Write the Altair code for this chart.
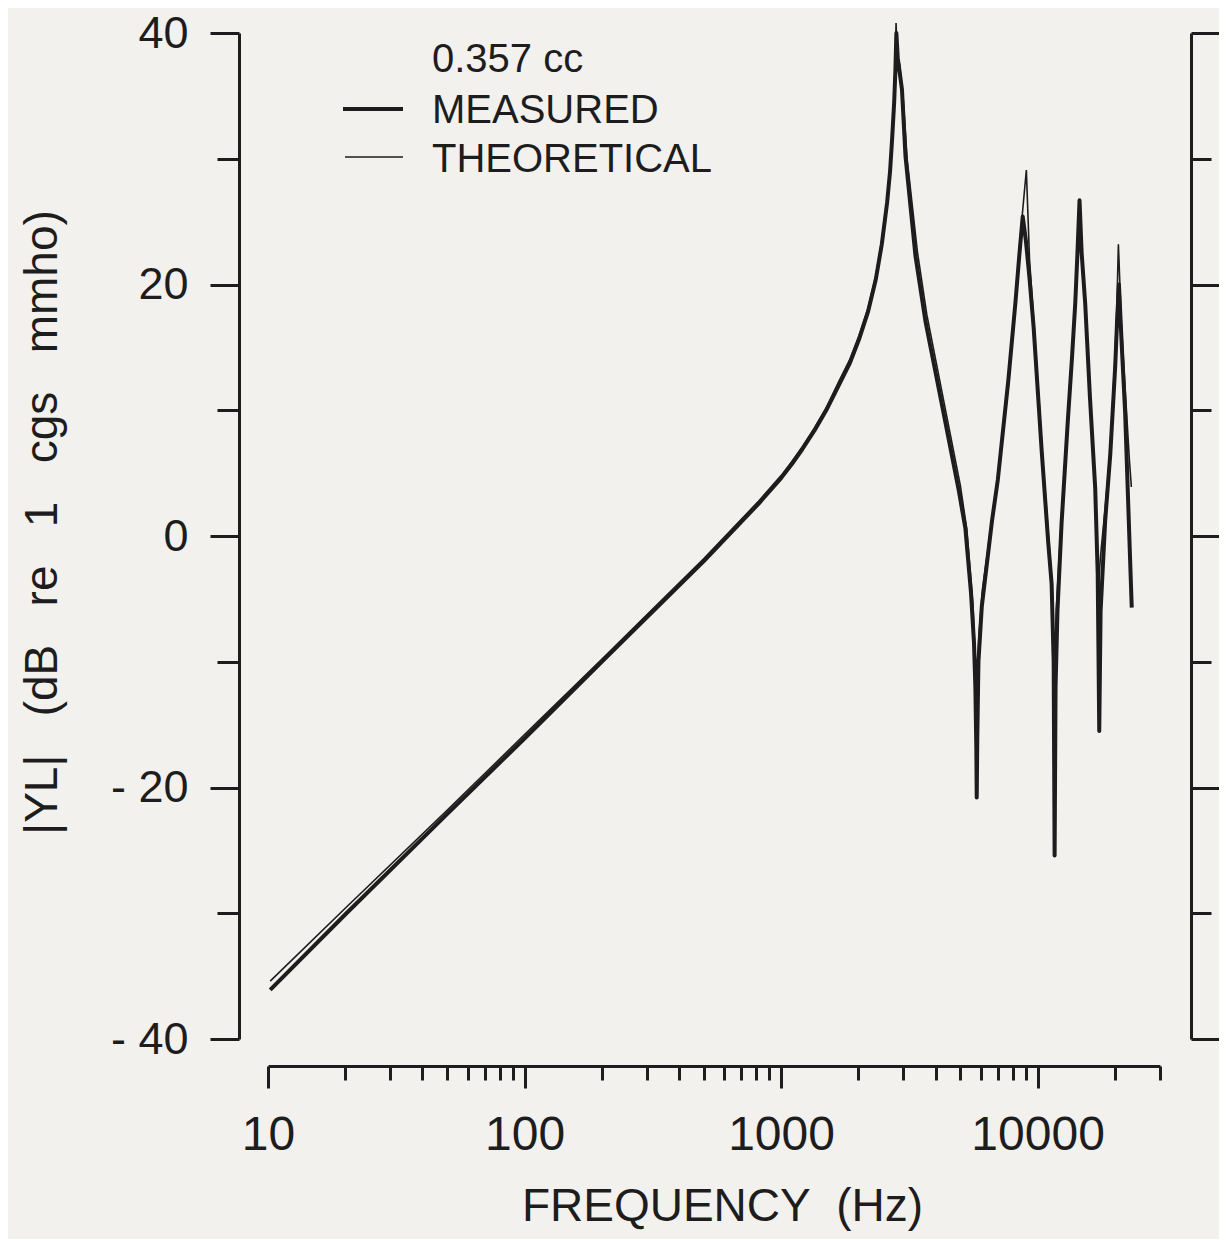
import altair as alt
import pandas as pd

INK = "#1d1d1d"
PAPER = "#f3f1ed"
FONT = "Liberation Sans"

# ---- data ----
meas_freq = [10.2, 20, 50, 100, 200, 500, 820, 1000, 1100, 1210, 1350, 1500, 1680, 1850, 2010, 2180,
             2340, 2470, 2590, 2660, 2710, 2760, 2790, 2815, 2850, 2960, 3055, 3340, 3660,
             4240, 4930, 5230, 5500, 5650, 5720, 5770, 5790, 5820, 5880, 6060, 6640, 7000,
             7700, 8190, 8500, 8750, 9000, 9300, 9650, 10370, 11000, 11340, 11550, 11650,
             11750, 11950, 12400, 13100, 13600, 14020, 14300, 14570, 14850, 15330, 16000,
             16770, 17150, 17390, 17600, 18340, 19200, 20070, 20400, 20750, 21300, 21940,
             22950, 23280]
meas_db = [-36.1, -30.1, -22.1, -16.1, -10.0, -2.0, 2.6, 4.6, 5.7, 6.9, 8.4, 10.0, 12.0, 13.7, 15.6, 17.8,
           20.4, 23.2, 26.5, 29.0, 31.6, 34.5, 37.0, 40.0, 38.0, 35.5, 30.2, 22.3, 17.0,
           10.4, 3.6, 0.6, -4.5, -8.5, -12.0, -17.0, -20.8, -16.0, -10.0, -5.6, 1.2, 4.5,
           12.5, 18.5, 22.5, 25.4, 23.5, 20.5, 16.6, 6.8, -0.5, -3.8, -10.0, -25.4,
           -12.0, -6.0, 1.0, 9.0, 14.0, 18.5, 22.5, 26.7, 22.5, 18.5, 11.0,
           3.8, -3.0, -15.5, -6.0, 1.2, 6.5, 13.5, 17.0, 20.0, 15.0, 9.8,
           -2.0, -5.7]

theo_freq = [10.2, 20, 50, 100, 200, 500, 820, 1000, 1100, 1210, 1350, 1500, 1680, 1850, 2010, 2180,
             2340, 2470, 2590, 2660, 2710, 2760, 2790, 2807, 2830, 2900, 3000, 3100, 3400,
             3700, 4300, 5000, 5300, 5600, 5720, 5780, 5830, 5900, 6100, 6700, 7050, 7700,
             8190, 8500, 8800, 9040, 9300, 9800, 10500, 11100, 11400, 11550, 11620, 11700,
             11850, 12300, 13100, 13600, 14020, 14300, 14600, 14900, 15400, 16000, 16700,
             17050, 17250, 17450, 17700, 18300, 19200, 20000, 20350, 20650, 21200, 21900,
             22800, 23200]
theo_db = [-35.4, -29.6, -21.8, -15.8, -9.8, -1.8, 2.8, 4.8, 5.9, 7.1, 8.6, 10.2, 12.3, 14.0, 15.9, 18.1,
           20.7, 23.5, 26.8, 29.3, 32.0, 35.2, 38.2, 40.8, 38.5, 37.5, 34.5, 30.0, 22.6,
           17.6, 10.8, 4.0, 0.5, -5.5, -10.0, -17.0, -11.5, -8.0, -4.2, 2.0, 5.2, 12.0,
           18.8, 23.0, 26.5, 29.1, 22.0, 15.2, 5.8, -0.8, -4.0, -8.5, -13.5, -9.0,
           -5.5, 0.5, 9.5, 14.5, 18.8, 22.0, 25.8, 21.5, 17.5, 11.5, 4.5,
           -0.5, -5.0, -2.5, -1.0, 2.0, 7.0, 14.0, 18.0, 23.2, 17.0, 12.0,
           6.0, 3.9]

legend_title = "0.357 cc"
legend_labels = ["MEASURED", "THEORETICAL"]

x_tick_values = [10, 20, 30, 40, 50, 60, 70, 80, 90,
                 100, 200, 300, 400, 500, 600, 700, 800, 900,
                 1000, 2000, 3000, 4000, 5000, 6000, 7000, 8000, 9000,
                 10000, 20000, 30000]
x_label_values = [10, 100, 1000, 10000]
y_tick_values = [-40, -30, -20, -10, 0, 10, 20, 30, 40]

SP = "\u00a0\u00a0\u00a0"
x_title = "FREQUENCY\u00a0\u00a0(Hz)"
y_title = "|YL|" + SP + "(dB" + SP + "re" + SP + "1" + SP + "cgs" + SP + "mmho)"

meas = pd.DataFrame({"freq": meas_freq, "db": meas_db})
theo = pd.DataFrame({"freq": theo_freq, "db": theo_db})

major_x = "indexof(" + str(x_label_values) + ", datum.value) >= 0"
major_y = "datum.value % 20 === 0"

x_scale = alt.Scale(type="log", domain=[10, 30000], nice=False)
y_scale = alt.Scale(domain=[-40, 40], nice=False, zero=False)

common = dict(domainColor=INK, domainWidth=3, tickColor=INK, tickWidth=3,
              labelColor=INK, labelFont=FONT, titleColor=INK, titleFont=FONT,
              titleFontWeight="normal", grid=False, labelOverlap=False, labelFlush=False)

x_axis = alt.Axis(orient="bottom", offset=27, values=x_tick_values,
                  labelExpr=major_x + " ? format(datum.value, 'd') : ''",
                  tickSize={"condition": {"test": major_x, "value": 22}, "value": 14},
                  labelPadding=23, labelFontSize=48, labelBaseline="top",
                  title=x_title, titleFontSize=46, titleX=454, titleY=154,
                  titleAlign="center", titleBaseline="alphabetic", **common)

y_axis_left = alt.Axis(orient="left", offset=29, values=y_tick_values,
                       labelExpr=major_y + " ? (datum.value < 0 ? '- ' + format(-datum.value, 'd') : format(datum.value, 'd')) : ''",
                       tickSize={"condition": {"test": major_y, "value": 29}, "value": 22},
                       labelPadding=22, labelFontSize=45, labelBaseline="middle",
                       title=y_title, titleFontSize=46, titleAngle=270,
                       titleX=-183, titleY=489, titleAlign="center",
                       titleBaseline="alphabetic", **common)

y_axis_right = alt.Axis(orient="right", offset=31, values=y_tick_values, labels=False,
                        tickSize={"condition": {"test": major_y, "value": 29}, "value": 20},
                        title=None, **common)

meas_line = alt.Chart(meas).mark_line(color=INK, strokeWidth=4, strokeJoin="round").encode(
    x=alt.X("freq:Q", scale=x_scale, axis=x_axis),
    y=alt.Y("db:Q", scale=y_scale, axis=y_axis_left),
    order="freq:Q",
)

theo_line = alt.Chart(theo).mark_line(color=INK, strokeWidth=1.6).encode(
    x=alt.X("freq:Q", scale=x_scale, axis=x_axis),
    y=alt.Y("db:Q", scale=y_scale, axis=y_axis_right),
    order="freq:Q",
)

text_style = dict(align="left", baseline="alphabetic", font=FONT, fontSize=40, color=INK)

leg_title = alt.Chart(pd.DataFrame({"t": [legend_title]})).mark_text(**text_style).encode(
    x=alt.value(164), y=alt.value(39), text="t:N")
leg_meas_txt = alt.Chart(pd.DataFrame({"t": [legend_labels[0]]})).mark_text(**text_style).encode(
    x=alt.value(164), y=alt.value(90), text="t:N")
leg_theo_txt = alt.Chart(pd.DataFrame({"t": [legend_labels[1]]})).mark_text(**text_style).encode(
    x=alt.value(164), y=alt.value(139), text="t:N")
leg_meas_line = alt.Chart(pd.DataFrame({"t": [legend_labels[0]]})).mark_rule(color=INK, strokeWidth=4).encode(
    x=alt.value(75), x2=alt.value(135), y=alt.value(76))
leg_theo_line = alt.Chart(pd.DataFrame({"t": [legend_labels[1]]})).mark_rule(color=INK, strokeWidth=1.6).encode(
    x=alt.value(77), x2=alt.value(135), y=alt.value(124))

chart = alt.layer(
    meas_line, theo_line, leg_title, leg_meas_txt, leg_theo_txt, leg_meas_line, leg_theo_line
).resolve_axis(y="independent").properties(
    width=892, height=1006,
    padding={"left": 260, "top": 25, "right": 59, "bottom": 200},
    autosize=alt.AutoSizeParams(type="none"),
).configure(background=PAPER).configure_view(strokeWidth=0)

chart.save("out.html", embed_options={"renderer": "svg", "actions": False})
